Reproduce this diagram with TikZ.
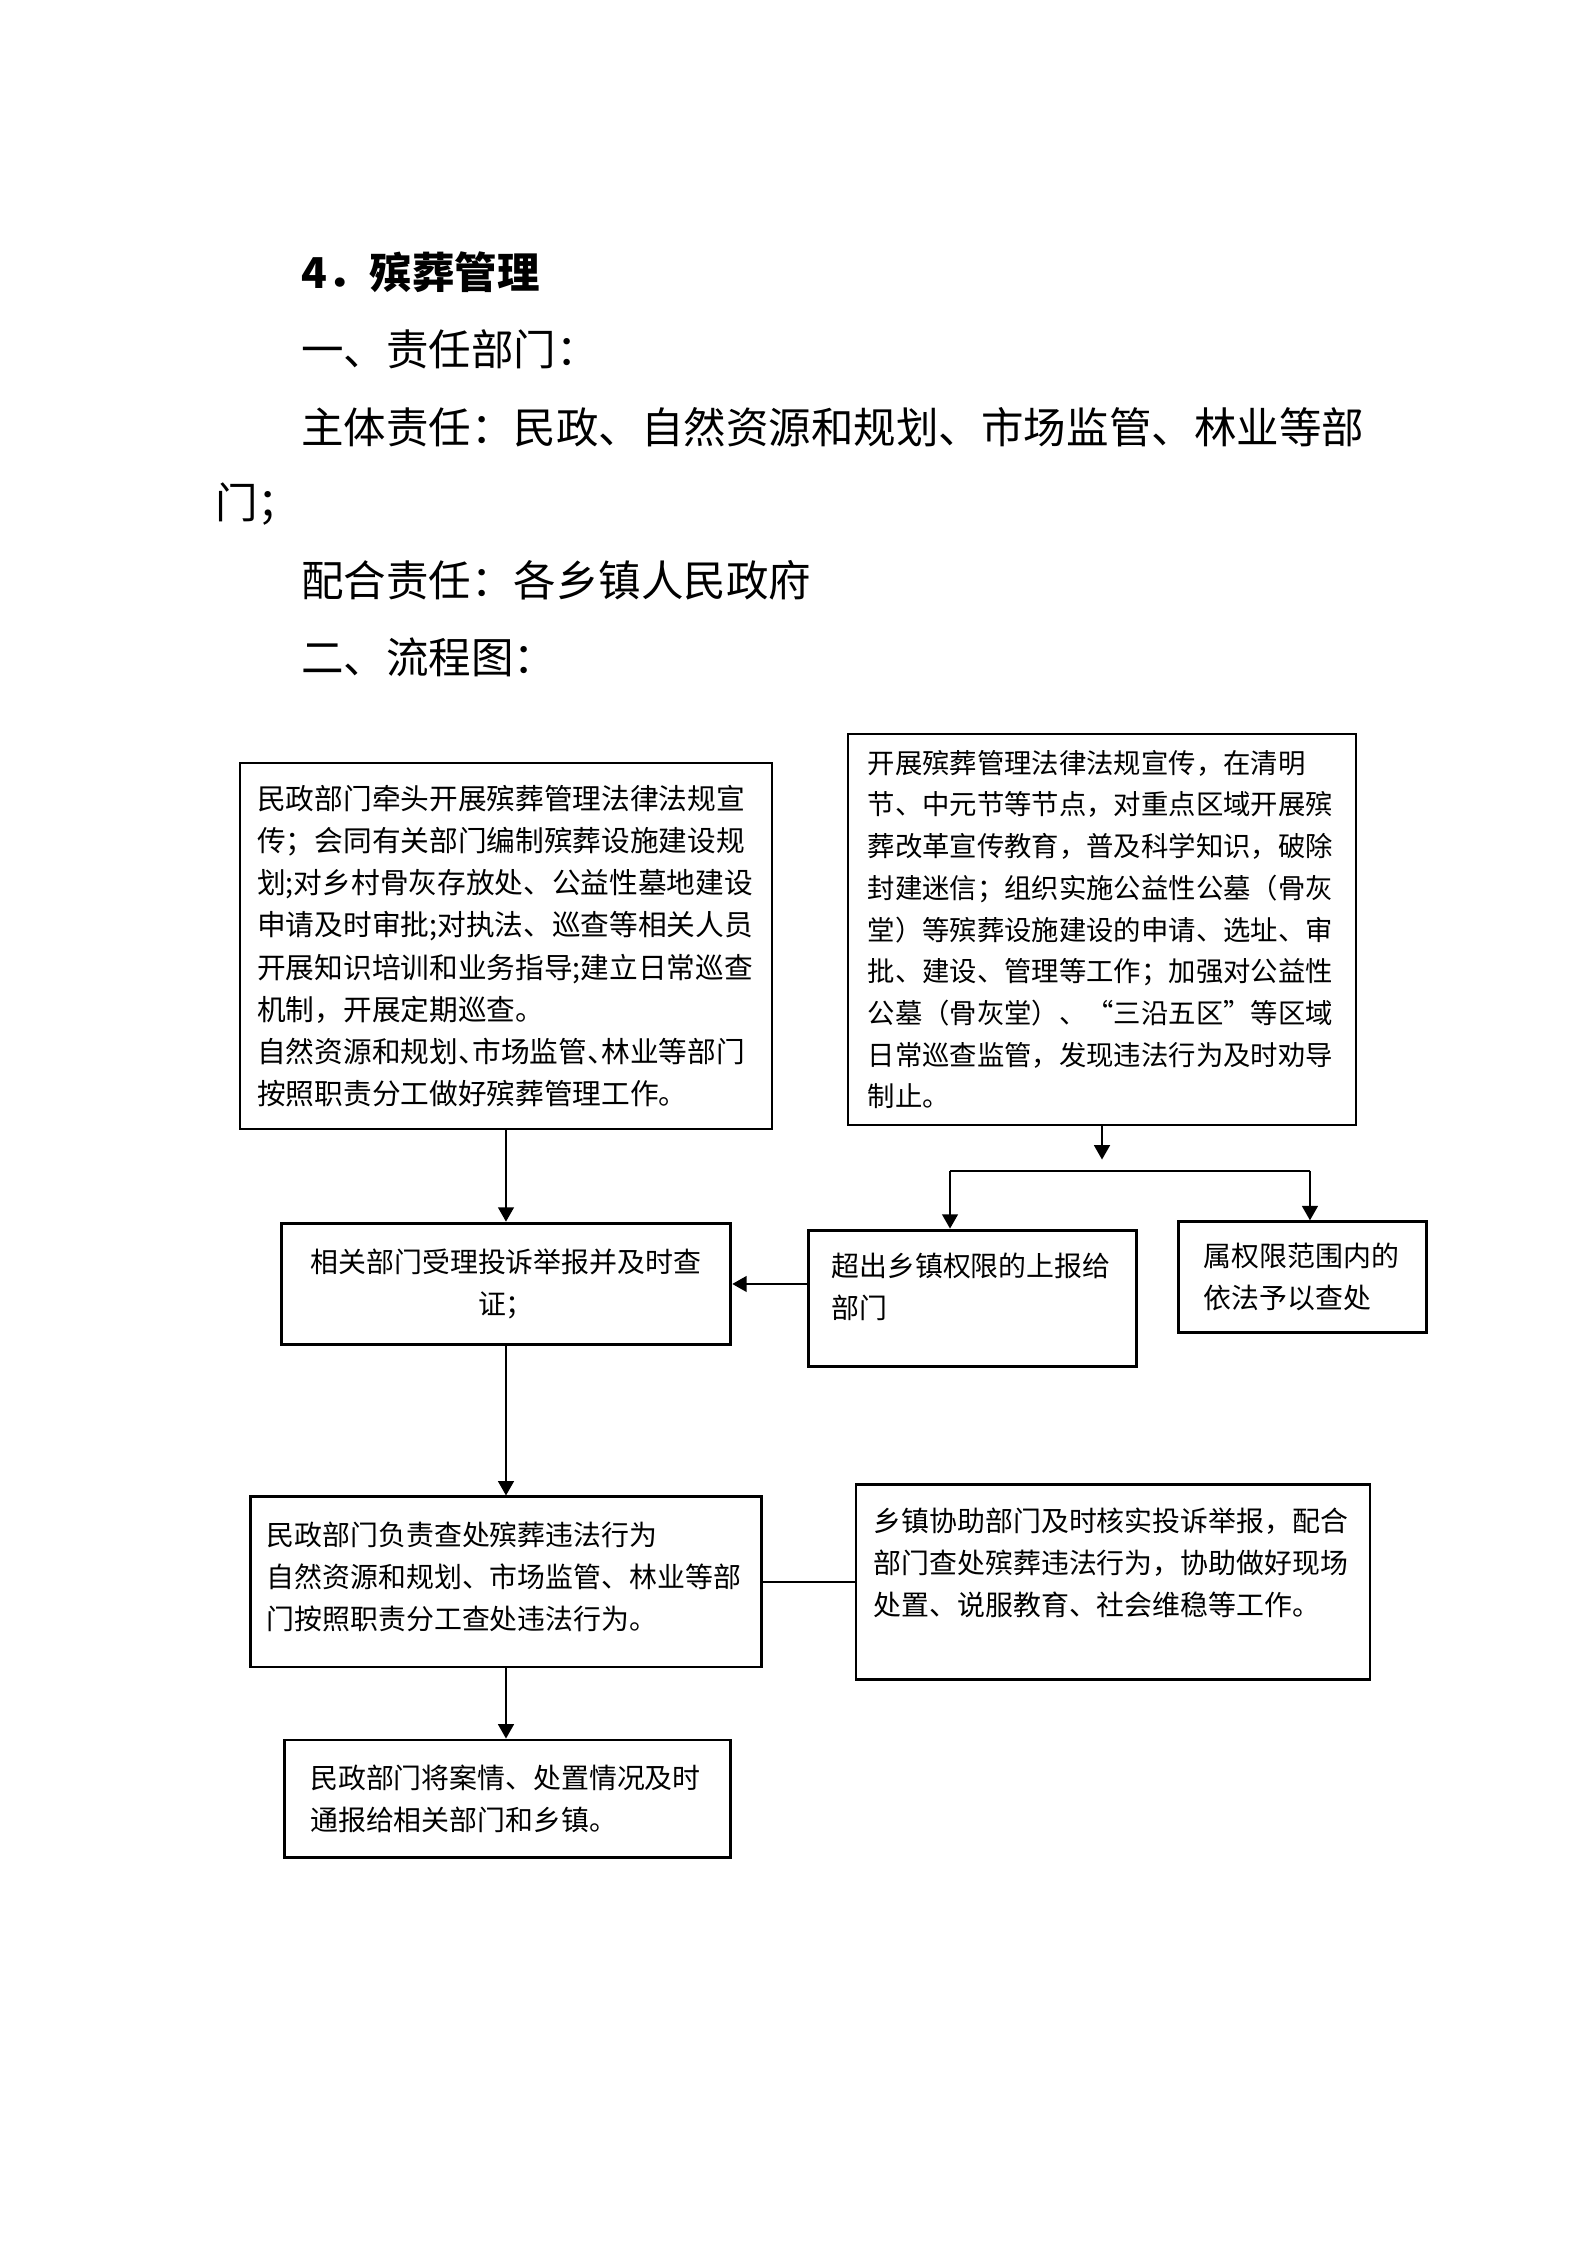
\documentclass[tikz,border=0pt]{standalone}
\usepackage{fontspec}
\setmainfont{Noto Sans CJK SC}
\usetikzlibrary{arrows.meta}
\newcommand{\boxfont}{\fontsize{10.5pt}{15.9pt}\selectfont}
\newcommand{\wideboxfont}{\fontsize{10.8pt}{15.9pt}\selectfont}
\newcommand{\narrowboxfont}{\fontsize{10.3pt}{15.7pt}\selectfont}
\newcommand{\hdrfont}{\fontsize{16pt}{29pt}\selectfont}
\newcommand{\lift}[1]{\rule[-#1mm]{0pt}{0pt}}
\newcommand{\halfpunct}{\kern-.5em}
\tikzset{
  box/.style={rectangle, draw=black, line width=0.75pt, align=left, inner sep=0pt, font=\boxfont},
  heavybox/.style={box, line width=1.1pt},
  dims/.style 2 args={minimum width=#1mm, minimum height=#2mm},
  hdr/.style={anchor=west, inner sep=0pt, font=\hdrfont},
  arr/.style={-{Triangle[length=1.9mm, width=2.1mm]}, line width=0.65pt},
  conn/.style={line width=0.65pt}
}

\begin{document}
\begin{tikzpicture}[x=1mm, y=-1mm]
\useasboundingbox (0,0) rectangle (210,297);
% headings
\node[hdr] (title) at (39.8,35.98) {\bfseries 4．殡葬管理};
\node[hdr] (duty) at (39.8,46.24) {一、责任部门：};
\node[hdr] (main) at (39.8,56.46) {主体责任：民政、自然资源和规划、市场监管、林业等部};
\node[hdr] (mainb) at (28.4,66.67) {门；};
\node[hdr] (assist) at (39.8,76.73) {配合责任：各乡镇人民政府};
\node[hdr] (chart) at (39.8,86.97) {二、流程图：};
% flow chart
\node[box, font=\wideboxfont, dims={70.4}{48.4}, text width=65.8mm] (A) at (66.94,125.15) {民政部门牵头开展殡葬管理法律法规宣\\传；会同有关部门编制殡葬设施建设规\\划;对乡村骨灰存放处、公益性墓地建设\\申请及时审批;对执法、巡查等相关人员\\开展知识培训和业务指导;建立日常巡查\\机制，开展定期巡查。\\自然资源和规划、\halfpunct 市场监管、\halfpunct 林业等部门\\按照职责分工做好殡葬管理工作。};
\node[box, font=\narrowboxfont, dims={67.2}{51.7}, text width=62mm] (B) at (145.79,122.97) {开展殡葬管理法律法规宣传，在清明\\节、中元节等节点，对重点区域开展殡\\葬改革宣传教育，普及科学知识，破除\\封建迷信；组织实施公益性公墓（骨灰\\堂）等殡葬设施建设的申请、选址、审\\批、建设、管理等工作；加强对公益性\\公墓（骨灰堂）、“三沿五区”等区域\\日常巡查监管，发现违法行为及时劝导\\制止。};
\node[heavybox, dims={59.5}{16.1}, text width=52.2mm, align=center] (E) at (66.94,169.86) {相关部门受理投诉举报并及时查\\证；};
\node[heavybox, dims={43.5}{18.1}, text width=37.3mm] (C) at (128.65,171.78) {超出乡镇权限的上报给\\部门\lift{3.4}};
\node[heavybox, dims={32.9}{14.6}, text width=26.1mm] (D) at (172.31,168.93) {属权限范围内的\\依法予以查处};
\node[heavybox, dims={67.5}{22.5}, text width=63.3mm] (F) at (66.94,209.28) {民政部门负责查处殡葬违法行为\\自然资源和规划、市场监管、林业等部\\门按照职责分工查处违法行为。\lift{1.6}};
\node[heavybox, dims={68.0}{25.9}, text width=63.3mm] (G) at (147.24,209.28) {乡镇协助部门及时核实投诉举报，配合\\部门查处殡葬违法行为，协助做好现场\\处置、说服教育、社会维稳等工作。\lift{5.3}};
\node[heavybox, dims={59.1}{15.6}, text width=52.2mm] (H) at (67.14,237.99) {民政部门将案情、处置情况及时\\通报给相关部门和乡镇。};
\coordinate (fork) at (145.79,153.4);
\coordinate (forkL) at (125.68,154.91);
\coordinate (forkR) at (173.30,154.91);
\draw[arr] (A) -- (E); \draw[arr] (E) -- (F); \draw[arr] (F) -- (F |- H.north);
\draw[arr] (C.west |- E) -- (E.east);
\draw[arr] (B) -- (fork); \draw[conn] (forkL) -- (forkR);
\draw[arr] (forkL) -- (forkL |- C.north); \draw[arr] (forkR) -- (forkR |- D.north);
\draw[conn] (F) -- (G);
\end{tikzpicture}
\end{document}
